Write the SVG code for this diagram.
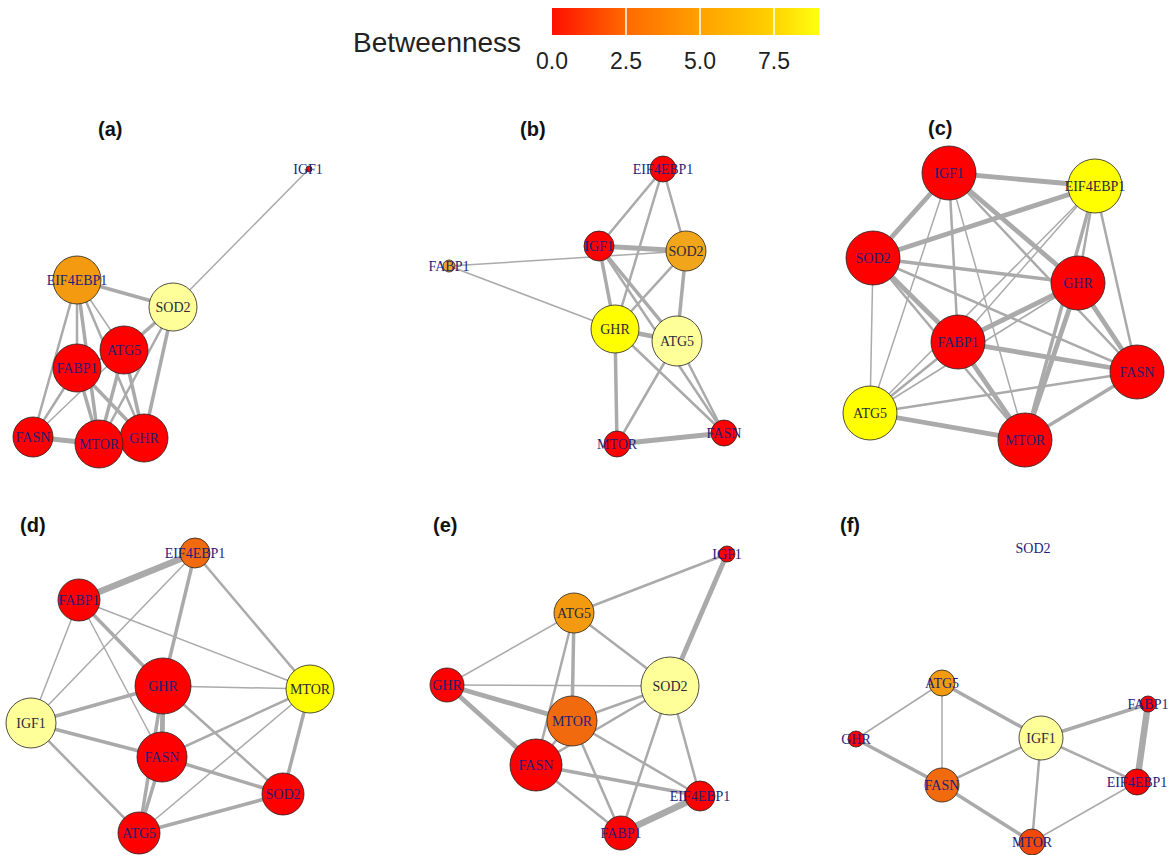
<svg xmlns="http://www.w3.org/2000/svg" width="1169" height="855" viewBox="0 0 1169 855">
<defs>
<linearGradient id="heat" x1="0" y1="0" x2="1" y2="0">
<stop offset="0" stop-color="#FF1000"/>
<stop offset="0.28" stop-color="#FF6A00"/>
<stop offset="0.55" stop-color="#FFA000"/>
<stop offset="0.8" stop-color="#FFCC00"/>
<stop offset="1" stop-color="#FFFF10"/>
</linearGradient>
<style>
.e{stroke:#AAAAAA;fill:none;stroke-linecap:butt}
.w1{stroke-width:1.5}.w2{stroke-width:2.5}.w3{stroke-width:3.5}.w4{stroke-width:4.8}.w5{stroke-width:6.5}
circle{stroke:#222;stroke-width:0.8}
.r{fill:#FF0000}.py{fill:#FFFF99}.y{fill:#FFFF00}.o{fill:#F39A10}.og{fill:#F0A51A}.or{fill:#F26A0E}.orr{fill:#F2480C}
text.l{font-family:"Liberation Serif","Times New Roman",serif;font-size:14px;fill:#1E1E7A;text-anchor:middle}
text.k{fill:#2A2A3A}
.t{font-family:"Liberation Sans",Arial,sans-serif;font-weight:bold;font-size:20px;fill:#111}
.lg{font-family:"Liberation Sans",Arial,sans-serif;fill:#222}
</style>
</defs>
<rect width="1169" height="855" fill="#FFFFFF"/>
<g id="legend">
<text class="lg" x="353" y="52" font-size="28">Betweenness</text>
<rect x="552" y="8" width="267" height="27" fill="url(#heat)"/>
<line x1="626" y1="8" x2="626" y2="35" stroke="#FFF" stroke-width="1.5"/>
<line x1="700" y1="8" x2="700" y2="35" stroke="#FFF" stroke-width="1.5"/>
<line x1="774" y1="8" x2="774" y2="35" stroke="#FFF" stroke-width="1.5"/>
<text class="lg" x="552" y="69" font-size="23" text-anchor="middle" fill="#333">0.0</text>
<text class="lg" x="626" y="69" font-size="23" text-anchor="middle" fill="#333">2.5</text>
<text class="lg" x="700" y="69" font-size="23" text-anchor="middle" fill="#333">5.0</text>
<text class="lg" x="774" y="69" font-size="23" text-anchor="middle" fill="#333">7.5</text>
</g>
<g id="titles">
<text class="t" x="98" y="136">(a)</text>
<text class="t" x="520" y="136">(b)</text>
<text class="t" x="928" y="135">(c)</text>
<text class="t" x="20" y="532">(d)</text>
<text class="t" x="433" y="532">(e)</text>
<text class="t" x="840" y="532">(f)</text>
</g>
<g id="connectors">
<g id="edges-a">
<line class="e w1" x1="309" y1="169" x2="173" y2="307"/>
<line class="e w3" x1="77" y1="280" x2="173" y2="307"/>
<line class="e w2" x1="77" y1="280" x2="33" y2="437"/>
<line class="e w2" x1="77" y1="280" x2="77" y2="368"/>
<line class="e w3" x1="77" y1="280" x2="99" y2="444"/>
<line class="e w1" x1="77" y1="280" x2="124" y2="350"/>
<line class="e w2" x1="77" y1="280" x2="144" y2="438"/>
<line class="e w3" x1="173" y1="307" x2="124" y2="350"/>
<line class="e w2" x1="173" y1="307" x2="99" y2="444"/>
<line class="e w3" x1="173" y1="307" x2="144" y2="438"/>
<line class="e w3" x1="124" y1="350" x2="99" y2="444"/>
<line class="e w3" x1="124" y1="350" x2="144" y2="438"/>
<line class="e w2" x1="124" y1="350" x2="77" y2="368"/>
<line class="e w2" x1="77" y1="368" x2="33" y2="437"/>
<line class="e w3" x1="77" y1="368" x2="99" y2="444"/>
<line class="e w3" x1="77" y1="368" x2="144" y2="438"/>
<line class="e w4" x1="33" y1="437" x2="99" y2="444"/>
<line class="e w1" x1="33" y1="437" x2="124" y2="350"/>
<line class="e w2" x1="99" y1="444" x2="144" y2="438"/>
</g>
<g id="edges-b">
<line class="e w1" x1="449" y1="266" x2="686" y2="251"/>
<line class="e w1" x1="449" y1="266" x2="615" y2="329"/>
<line class="e w2" x1="663" y1="169" x2="599" y2="246"/>
<line class="e w2" x1="663" y1="169" x2="615" y2="329"/>
<line class="e w2" x1="663" y1="169" x2="686" y2="251"/>
<line class="e w4" x1="599" y1="246" x2="686" y2="251"/>
<line class="e w3" x1="599" y1="246" x2="615" y2="329"/>
<line class="e w3" x1="599" y1="246" x2="677" y2="341"/>
<line class="e w2" x1="599" y1="246" x2="724" y2="433"/>
<line class="e w2" x1="686" y1="251" x2="615" y2="329"/>
<line class="e w3" x1="686" y1="251" x2="677" y2="341"/>
<line class="e w4" x1="615" y1="329" x2="677" y2="341"/>
<line class="e w3" x1="615" y1="329" x2="617" y2="444"/>
<line class="e w2" x1="615" y1="329" x2="724" y2="433"/>
<line class="e w2" x1="677" y1="341" x2="617" y2="444"/>
<line class="e w2" x1="677" y1="341" x2="724" y2="433"/>
<line class="e w4" x1="617" y1="444" x2="724" y2="433"/>
</g>
<g id="edges-c">
<line class="e w4" x1="949" y1="173" x2="1095" y2="186"/>
<line class="e w4" x1="949" y1="173" x2="873" y2="258"/>
<line class="e w4" x1="949" y1="173" x2="1078" y2="283"/>
<line class="e w2" x1="949" y1="173" x2="1137" y2="372"/>
<line class="e w2" x1="949" y1="173" x2="958" y2="342"/>
<line class="e w1" x1="949" y1="173" x2="1025" y2="440"/>
<line class="e w1" x1="949" y1="173" x2="870" y2="413"/>
<line class="e w4" x1="1095" y1="186" x2="873" y2="258"/>
<line class="e w1" x1="1095" y1="186" x2="958" y2="342"/>
<line class="e w1" x1="1095" y1="186" x2="870" y2="413"/>
<line class="e w2" x1="1095" y1="186" x2="1078" y2="283"/>
<line class="e w3" x1="1095" y1="186" x2="1025" y2="440"/>
<line class="e w2" x1="1095" y1="186" x2="1137" y2="372"/>
<line class="e w3" x1="873" y1="258" x2="1078" y2="283"/>
<line class="e w4" x1="873" y1="258" x2="958" y2="342"/>
<line class="e w2" x1="873" y1="258" x2="1025" y2="440"/>
<line class="e w2" x1="873" y1="258" x2="1137" y2="372"/>
<line class="e w1" x1="873" y1="258" x2="870" y2="413"/>
<line class="e w4" x1="1078" y1="283" x2="958" y2="342"/>
<line class="e w1" x1="1078" y1="283" x2="870" y2="413"/>
<line class="e w4" x1="1078" y1="283" x2="1025" y2="440"/>
<line class="e w4" x1="1078" y1="283" x2="1137" y2="372"/>
<line class="e w4" x1="958" y1="342" x2="1137" y2="372"/>
<line class="e w4" x1="958" y1="342" x2="1025" y2="440"/>
<line class="e w2" x1="958" y1="342" x2="870" y2="413"/>
<line class="e w2" x1="1137" y1="372" x2="870" y2="413"/>
<line class="e w3" x1="1137" y1="372" x2="1025" y2="440"/>
<line class="e w4" x1="870" y1="413" x2="1025" y2="440"/>
</g>
<g id="edges-d">
<line class="e w5" x1="195" y1="553" x2="79" y2="600"/>
<line class="e w3" x1="195" y1="553" x2="163" y2="686"/>
<line class="e w2" x1="195" y1="553" x2="310" y2="689"/>
<line class="e w1" x1="195" y1="553" x2="31" y2="723"/>
<line class="e w1" x1="79" y1="600" x2="31" y2="723"/>
<line class="e w3" x1="79" y1="600" x2="163" y2="686"/>
<line class="e w1" x1="79" y1="600" x2="162" y2="757"/>
<line class="e w1" x1="79" y1="600" x2="310" y2="689"/>
<line class="e w1" x1="163" y1="686" x2="310" y2="689"/>
<line class="e w3" x1="163" y1="686" x2="31" y2="723"/>
<line class="e w4" x1="163" y1="686" x2="162" y2="757"/>
<line class="e w2" x1="163" y1="686" x2="283" y2="794"/>
<line class="e w3" x1="163" y1="686" x2="139" y2="833"/>
<line class="e w2" x1="310" y1="689" x2="162" y2="757"/>
<line class="e w3" x1="310" y1="689" x2="283" y2="794"/>
<line class="e w1" x1="310" y1="689" x2="139" y2="833"/>
<line class="e w3" x1="31" y1="723" x2="162" y2="757"/>
<line class="e w2" x1="31" y1="723" x2="139" y2="833"/>
<line class="e w3" x1="162" y1="757" x2="283" y2="794"/>
<line class="e w3" x1="162" y1="757" x2="139" y2="833"/>
<line class="e w3" x1="139" y1="833" x2="283" y2="794"/>
</g>
<g id="edges-e">
<line class="e w2" x1="727" y1="554" x2="574" y2="613"/>
<line class="e w4" x1="727" y1="554" x2="670" y2="686"/>
<line class="e w1" x1="574" y1="613" x2="447" y2="685"/>
<line class="e w2" x1="574" y1="613" x2="670" y2="686"/>
<line class="e w3" x1="574" y1="613" x2="572" y2="721"/>
<line class="e w2" x1="574" y1="613" x2="536" y2="765"/>
<line class="e w1" x1="447" y1="685" x2="670" y2="686"/>
<line class="e w4" x1="447" y1="685" x2="572" y2="721"/>
<line class="e w4" x1="447" y1="685" x2="536" y2="765"/>
<line class="e w2" x1="670" y1="686" x2="572" y2="721"/>
<line class="e w2" x1="670" y1="686" x2="536" y2="765"/>
<line class="e w2" x1="670" y1="686" x2="621" y2="833"/>
<line class="e w2" x1="670" y1="686" x2="700" y2="796"/>
<line class="e w2" x1="572" y1="721" x2="536" y2="765"/>
<line class="e w2" x1="572" y1="721" x2="621" y2="833"/>
<line class="e w2" x1="572" y1="721" x2="700" y2="796"/>
<line class="e w3" x1="536" y1="765" x2="700" y2="796"/>
<line class="e w2" x1="536" y1="765" x2="621" y2="833"/>
<line class="e w5" x1="621" y1="833" x2="700" y2="796"/>
</g>
<g id="edges-f">
<line class="e w1" x1="942" y1="683" x2="856" y2="739"/>
<line class="e w1" x1="942" y1="683" x2="942" y2="785"/>
<line class="e w3" x1="942" y1="683" x2="1041" y2="738"/>
<line class="e w3" x1="856" y1="739" x2="942" y2="785"/>
<line class="e w2" x1="942" y1="785" x2="1041" y2="738"/>
<line class="e w3" x1="942" y1="785" x2="1032" y2="842"/>
<line class="e w2" x1="1041" y1="738" x2="1032" y2="842"/>
<line class="e w3" x1="1041" y1="738" x2="1148" y2="704"/>
<line class="e w2" x1="1041" y1="738" x2="1137" y2="782"/>
<line class="e w5" x1="1148" y1="704" x2="1137" y2="782"/>
<line class="e w1" x1="1032" y1="842" x2="1137" y2="782"/>
</g>
</g>
<g id="panel-a">
<g id="a-IGF1"><circle class="r" cx="309" cy="169" r="3"/><text class="l" x="308" y="174">IGF1</text></g>
<g id="a-EIF4EBP1"><circle class="o" cx="77" cy="280" r="24"/><text class="l" x="77" y="285">EIF4EBP1</text></g>
<g id="a-SOD2"><circle class="py" cx="173" cy="307" r="24"/><text class="l k" x="173" y="312">SOD2</text></g>
<g id="a-ATG5"><circle class="r" cx="124" cy="350" r="24"/><text class="l" x="124" y="355">ATG5</text></g>
<g id="a-FABP1"><circle class="r" cx="77" cy="368" r="24"/><text class="l" x="77" y="373">FABP1</text></g>
<g id="a-FASN"><circle class="r" cx="33" cy="437" r="20"/><text class="l" x="33" y="442">FASN</text></g>
<g id="a-GHR"><circle class="r" cx="144" cy="438" r="24"/><text class="l" x="144" y="443">GHR</text></g>
<g id="a-MTOR"><circle class="r" cx="99" cy="444" r="24"/><text class="l" x="99" y="449">MTOR</text></g>
</g>
<g id="panel-b">
<g id="b-EIF4EBP1"><circle class="r" cx="663" cy="169" r="13"/><text class="l" x="663" y="174">EIF4EBP1</text></g>
<g id="b-IGF1"><circle class="r" cx="599" cy="246" r="15"/><text class="l" x="599" y="251">IGF1</text></g>
<g id="b-SOD2"><circle class="og" cx="686" cy="251" r="20"/><text class="l k" x="686" y="256">SOD2</text></g>
<g id="b-FABP1"><circle class="og" cx="449" cy="266" r="6"/><text class="l" x="449" y="271">FABP1</text></g>
<g id="b-GHR"><circle class="y" cx="615" cy="329" r="24"/><text class="l k" x="615" y="334">GHR</text></g>
<g id="b-ATG5"><circle class="py" cx="677" cy="341" r="25"/><text class="l k" x="677" y="346">ATG5</text></g>
<g id="b-MTOR"><circle class="r" cx="617" cy="444" r="13"/><text class="l" x="617" y="449">MTOR</text></g>
<g id="b-FASN"><circle class="r" cx="724" cy="433" r="13"/><text class="l" x="724" y="438">FASN</text></g>
</g>
<g id="panel-c">
<g id="c-IGF1"><circle class="r" cx="949" cy="173" r="27"/><text class="l" x="949" y="178">IGF1</text></g>
<g id="c-EIF4EBP1"><circle class="y" cx="1095" cy="186" r="27"/><text class="l k" x="1095" y="191">EIF4EBP1</text></g>
<g id="c-SOD2"><circle class="r" cx="873" cy="258" r="27"/><text class="l" x="873" y="263">SOD2</text></g>
<g id="c-GHR"><circle class="r" cx="1078" cy="283" r="27"/><text class="l" x="1078" y="288">GHR</text></g>
<g id="c-FABP1"><circle class="r" cx="958" cy="342" r="27"/><text class="l" x="958" y="347">FABP1</text></g>
<g id="c-FASN"><circle class="r" cx="1137" cy="372" r="27"/><text class="l" x="1137" y="377">FASN</text></g>
<g id="c-ATG5"><circle class="y" cx="870" cy="413" r="27"/><text class="l k" x="870" y="418">ATG5</text></g>
<g id="c-MTOR"><circle class="r" cx="1025" cy="440" r="27"/><text class="l" x="1025" y="445">MTOR</text></g>
</g>
<g id="panel-d">
<g id="d-EIF4EBP1"><circle class="or" cx="195" cy="553" r="15"/><text class="l" x="195" y="558">EIF4EBP1</text></g>
<g id="d-FABP1"><circle class="r" cx="79" cy="600" r="21"/><text class="l" x="79" y="605">FABP1</text></g>
<g id="d-GHR"><circle class="r" cx="163" cy="686" r="28"/><text class="l" x="163" y="691">GHR</text></g>
<g id="d-MTOR"><circle class="y" cx="310" cy="689" r="24"/><text class="l k" x="310" y="694">MTOR</text></g>
<g id="d-IGF1"><circle class="py" cx="31" cy="723" r="25"/><text class="l k" x="31" y="728">IGF1</text></g>
<g id="d-FASN"><circle class="r" cx="162" cy="757" r="25"/><text class="l" x="162" y="762">FASN</text></g>
<g id="d-SOD2"><circle class="r" cx="283" cy="794" r="21"/><text class="l" x="283" y="799">SOD2</text></g>
<g id="d-ATG5"><circle class="r" cx="139" cy="833" r="21"/><text class="l" x="139" y="838">ATG5</text></g>
</g>
<g id="panel-e">
<g id="e-IGF1"><circle class="r" cx="727" cy="554" r="8"/><text class="l" x="727" y="559">IGF1</text></g>
<g id="e-ATG5"><circle class="o" cx="574" cy="613" r="20"/><text class="l k" x="574" y="618">ATG5</text></g>
<g id="e-GHR"><circle class="r" cx="447" cy="685" r="17"/><text class="l" x="447" y="690">GHR</text></g>
<g id="e-SOD2"><circle class="py" cx="670" cy="686" r="29"/><text class="l k" x="670" y="691">SOD2</text></g>
<g id="e-MTOR"><circle class="or" cx="572" cy="721" r="25"/><text class="l" x="572" y="726">MTOR</text></g>
<g id="e-FASN"><circle class="r" cx="536" cy="765" r="26"/><text class="l" x="536" y="770">FASN</text></g>
<g id="e-EIF4EBP1"><circle class="r" cx="700" cy="796" r="15"/><text class="l" x="700" y="801">EIF4EBP1</text></g>
<g id="e-FABP1"><circle class="r" cx="621" cy="833" r="17"/><text class="l" x="621" y="838">FABP1</text></g>
</g>
<g id="panel-f">
<g id="f-SOD2"><text class="l" x="1033" y="553">SOD2</text></g>
<g id="f-ATG5"><circle class="o" cx="942" cy="683" r="13"/><text class="l" x="942" y="688">ATG5</text></g>
<g id="f-GHR"><circle class="r" cx="856" cy="739" r="8"/><text class="l" x="856" y="744">GHR</text></g>
<g id="f-FASN"><circle class="or" cx="942" cy="785" r="17"/><text class="l" x="942" y="790">FASN</text></g>
<g id="f-IGF1"><circle class="py" cx="1041" cy="738" r="22"/><text class="l k" x="1041" y="743">IGF1</text></g>
<g id="f-FABP1"><circle class="r" cx="1148" cy="704" r="8"/><text class="l" x="1148" y="709">FABP1</text></g>
<g id="f-EIF4EBP1"><circle class="r" cx="1137" cy="782" r="13"/><text class="l" x="1137" y="787">EIF4EBP1</text></g>
<g id="f-MTOR"><circle class="orr" cx="1032" cy="842" r="13"/><text class="l" x="1032" y="847">MTOR</text></g>
</g>
</svg>
